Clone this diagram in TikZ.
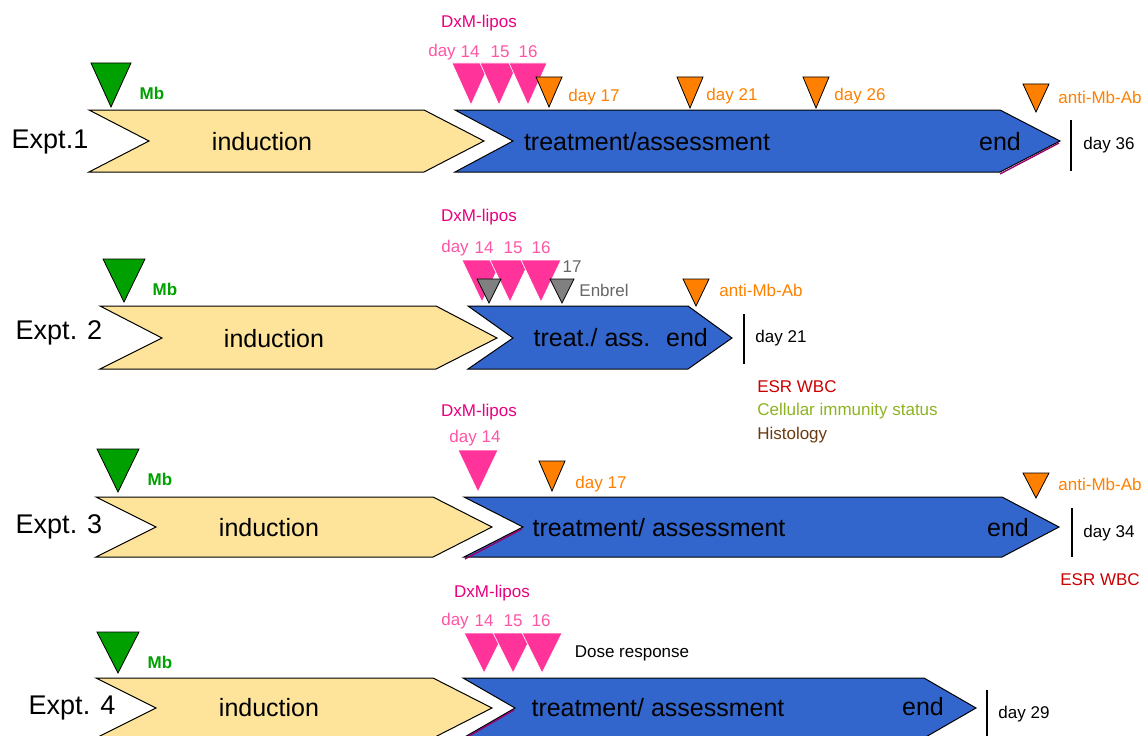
\documentclass[tikz,border=0pt]{standalone}
\usepackage{fontspec}
\setmainfont{Liberation Sans}
\definecolor{cyellow}{HTML}{FDE49A}
\definecolor{cblue}{HTML}{3366CC}
\definecolor{cgreen}{HTML}{00A000}
\definecolor{cpink}{HTML}{FF3399}
\definecolor{cpinktxt}{HTML}{FF55A5}
\definecolor{cdxm}{HTML}{E8007F}
\definecolor{corange}{HTML}{FF8000}
\definecolor{cgray}{HTML}{808080}
\definecolor{cgraytxt}{HTML}{666666}
\definecolor{cred}{HTML}{CC0000}
\definecolor{colive}{HTML}{8DB322}
\definecolor{cbrown}{HTML}{6B3A10}
\definecolor{cmag}{HTML}{990066}
\newcommand\mytri[5]{\path[#5] ({#1-#2},#3) -- ({#1+#2},#3) -- (#1,#4) -- cycle;}
\newcommand\mychev[8]{\path[#8] (#1,#5) -- (#3,#5) -- (#4,#6) -- (#3,#7) -- (#1,#7) -- (#2,#6) -- cycle;}
\tikzset{
  ind/.style={draw=black, line width=0.75pt, fill=cyellow},
  trt/.style={draw=black, line width=0.75pt, fill=cblue},
  gtri/.style={draw=black, line width=0.6pt, fill=cgreen},
  otri/.style={draw=black, line width=0.6pt, fill=corange},
  ytri/.style={draw=black, line width=0.6pt, fill=cgray},
  ptri/.style={draw=white, line width=0.5pt, fill=cpink},
  endline/.style={draw=black, line width=2.2pt},
  magline/.style={draw=cmag, line width=1pt},
  big/.style={inner sep=0pt, font=\fontsize{20.25}{24}\selectfont},
  mid/.style={inner sep=0pt, font=\fontsize{18.75}{22}\selectfont},
  sml/.style={inner sep=0pt, font=\fontsize{12.75}{15}\selectfont},
  mb/.style={sml, text=cgreen, font=\fontsize{12.75}{15}\selectfont\bfseries},
  dxm/.style={sml, text=cdxm},
  dayp/.style={sml, text=cpinktxt},
  dayo/.style={sml, text=corange},
}
\begin{document}
\begin{tikzpicture}[x=0.75pt,y=-0.75pt]
\useasboundingbox (0,0) rectangle (1145,735);
%%%%%%%%%% Expt 1
\mychev{89}{149}{424}{484}{110}{141}{172}{ind}
\mychev{455}{513}{1000}{1060}{110}{141}{172}{trt}
\draw[magline] (1059,143) -- (1000,174);
\draw[endline] (1071,120) -- (1071,171);
\node[big] (e1) at (50,142) {Expt.1};
\node[mid] (e1ind) at (262,142) {induction};
\node[mid] (e1trt) at (647,142) {treatment/assessment};
\node[mid] (e1end) at (1000,142) {end};
\node[sml] (e1day) at (1109,145) {day 36};
\mytri{111}{20}{63}{107}{gtri}
\node[mb] (e1mb) at (152,93) {Mb};
\mytri{471}{19}{63}{105}{ptri}
\mytri{499}{19}{63}{105}{ptri}
\mytri{528}{19}{63}{105}{ptri}
\node[dxm] (e1dxm) at (479,23) {DxM-lipos};
\node[dayp] (e1d) at (442,52) {day};
\node[dayp] (e1d14) at (470,52) {14};
\node[dayp] (e1d15) at (500,52) {15};
\node[dayp] (e1d16) at (528,52) {16};
\mytri{549}{13}{77}{107}{otri}
\mytri{690}{13}{77}{108}{otri}
\mytri{816}{13}{77}{108}{otri}
\mytri{1036}{13}{84}{112}{otri}
\node[dayo] (e1o17) at (594,97) {day 17};
\node[dayo] (e1o21) at (732,96) {day 21};
\node[dayo] (e1o26) at (860,96) {day 26};
\node[dayo] (e1ab) at (1100,97) {anti-Mb-Ab};
%%%%%%%%%% Expt 2
\mychev{100}{162}{436}{497}{306}{338}{369}{ind}
\mychev{468}{513}{688}{732}{306}{338}{369}{trt}
\draw[endline] (744,314) -- (744,364);
\node[big] (e2) at (59,333) {Expt. 2};
\node[mid] (e2ind) at (274,339) {induction};
\node[mid] (e2trt) at (592,338) {treat./ ass.};
\node[mid] (e2end) at (687,338) {end};
\node[sml] (e2day) at (781,338) {day 21};
\mytri{124}{21}{259}{302}{gtri}
\node[mb] (e2mb) at (165,289) {Mb};
\mytri{482}{20}{260}{302}{ptri}
\mytri{510}{20}{260}{302}{ptri}
\mytri{541}{20}{260}{302}{ptri}
\mytri{489}{12}{279}{303}{ytri}
\mytri{562}{12}{279}{303}{ytri}
\node[dxm] (e2dxm) at (479,217) {DxM-lipos};
\node[dayp] (e2d) at (455,248) {day};
\node[dayp] (e2d14) at (484,248) {14};
\node[dayp] (e2d15) at (513,248) {15};
\node[dayp] (e2d16) at (541,248) {16};
\node[sml, text=cgraytxt] (e2g17) at (572,267) {17};
\node[sml, text=cgraytxt] (e2enb) at (604,290) {Enbrel};
\mytri{696}{13}{279}{306}{otri}
\node[dayo] (e2ab) at (761,290) {anti-Mb-Ab};
\node[sml, text=cred, anchor=west] (e2esr) at (757,387) {ESR WBC};
\node[sml, text=colive, anchor=west] (e2cel) at (757,411) {Cellular immunity status};
\node[sml, text=cbrown, anchor=west] (e2his) at (757,435) {Histology};
%%%%%%%%%% Expt 3
\mychev{96}{156}{433}{492}{497}{527}{557}{ind}
\mychev{464}{523}{1002}{1059}{497}{527}{557}{trt}
\draw[magline] (522,529) -- (465,559);
\draw[endline] (1072,508) -- (1072,557);
\node[big] (e3) at (59,527) {Expt. 3};
\node[mid] (e3ind) at (269,528) {induction};
\node[mid] (e3trt) at (659,528) {treatment/ assessment};
\node[mid] (e3end) at (1008,528) {end};
\node[sml] (e3day) at (1109,533) {day 34};
\node[sml, text=cred] (e3esr) at (1100,580) {ESR WBC};
\mytri{118}{21}{449}{492}{gtri}
\node[mb] (e3mb) at (160,479) {Mb};
\mytri{478}{20}{450}{492}{ptri}
\node[dxm] (e3dxm) at (479,412) {DxM-lipos};
\node[dayp] (e3d14) at (475,438) {day 14};
\mytri{552}{13}{461}{491}{otri}
\node[dayo] (e3o17) at (601,484) {day 17};
\mytri{1036}{13}{473}{498}{otri}
\node[dayo] (e3ab) at (1100,484) {anti-Mb-Ab};
%%%%%%%%%% Expt 4
\mychev{96}{156}{433}{492}{678}{708}{738}{ind}
\mychev{463}{515}{924}{976}{678}{708}{738}{trt}
\draw[magline] (514,710) -- (464,739);
\draw[endline] (987,690) -- (987,740);
\node[big] (e4) at (72,708) {Expt. 4};
\node[mid] (e4ind) at (269,708) {induction};
\node[mid] (e4trt) at (658,708) {treatment/ assessment};
\node[mid] (e4end) at (923,707) {end};
\node[sml] (e4day) at (1024,714) {day 29};
\mytri{118}{21}{632}{673}{gtri}
\node[mb] (e4mb) at (160,662) {Mb};
\mytri{484}{20}{633}{673}{ptri}
\mytri{513}{20}{633}{673}{ptri}
\mytri{542}{20}{633}{673}{ptri}
\node[dxm] (e4dxm) at (492,593) {DxM-lipos};
\node[dayp] (e4d) at (455,621) {day};
\node[dayp] (e4d14) at (484,621) {14};
\node[dayp] (e4d15) at (513,621) {15};
\node[dayp] (e4d16) at (541,621) {16};
\node[sml] (e4dose) at (632,653) {Dose response};
\end{tikzpicture}
\end{document}
